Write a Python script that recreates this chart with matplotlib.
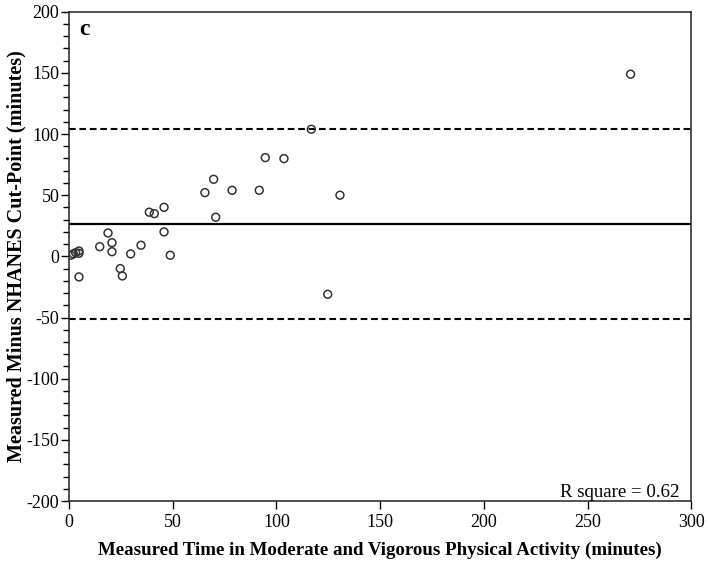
import matplotlib
matplotlib.use("Agg")
import matplotlib.pyplot as plt
from matplotlib.ticker import MultipleLocator

# measured MVPA (minutes) and difference measured - NHANES cut-point (minutes)
measured = [0.8, 2.1, 3.2, 4.8, 4.8, 4.8, 14.8, 18.8, 20.7, 20.7, 24.7, 25.7,
            29.7, 34.7, 38.7, 41.1, 45.8, 45.8, 48.8, 65.5, 69.7, 70.7, 78.6,
            91.7, 94.6, 103.6, 116.8, 124.7, 130.6, 270.7]
difference = [0.9, 2.0, 3.0, 4.4, 2.5, -16.8, 7.9, 19.1, 11.2, 3.8, -10.0, -16.0,
              2.0, 9.1, 36.1, 34.9, 40.1, 20.0, 0.9, 52.1, 63.0, 32.0, 54.0,
              54.0, 80.7, 79.9, 103.9, -31.0, 50.0, 148.9]

mean_diff = 26.5
upper_loa = 104.0
lower_loa = -51.0
r_square = 0.62

plt.rcParams['font.family'] = ['Liberation Serif', 'DejaVu Serif']
plt.rcParams['axes.unicode_minus'] = False

fig = plt.figure(figsize=(7.08, 5.70), dpi=100)
ax = fig.add_axes([0.0975, 0.121, 0.879, 0.8585])

ax.scatter(measured, difference, s=32, facecolors='none', edgecolors='#333333',
           linewidths=1.1, zorder=3)
ax.axhline(mean_diff, color='black', lw=1.6, zorder=2)
ax.axhline(upper_loa, color='black', lw=1.5, ls=(0, (3.2, 1.8)), zorder=2)
ax.axhline(lower_loa, color='black', lw=1.5, ls=(0, (3.2, 1.8)), zorder=2)

ax.set_xlim(0, 300)
ax.set_ylim(-200, 200)
ax.xaxis.set_major_locator(MultipleLocator(50))
ax.yaxis.set_major_locator(MultipleLocator(50))
ax.yaxis.set_minor_locator(MultipleLocator(10))
ax.tick_params(axis='both', which='major', direction='out', length=6, width=1,
               labelsize=13, colors='black')
ax.tick_params(axis='y', which='minor', direction='out', length=4, width=1)
ax.tick_params(axis='x', which='major', pad=3)
ax.tick_params(axis='y', which='major', pad=1)

for sp in ax.spines.values():
    sp.set_linewidth(1.1)
    sp.set_color('#222222')

ax.set_xlabel('Measured Time in Moderate and Vigorous Physical Activity (minutes)',
              fontsize=13.6, fontweight='bold', labelpad=8)
ax.set_ylabel('Measured Minus NHANES Cut-Point (minutes)',
              fontsize=14.5, fontweight='bold', labelpad=0)

ax.text(0.017, 0.9515, 'c', transform=ax.transAxes, fontsize=17,
        fontweight='bold', va='baseline', ha='left')
ax.text(0.981, 0.009, f'R square = {r_square}', transform=ax.transAxes,
        fontsize=13.6, va='baseline', ha='right')

fig.savefig('out.png', dpi=100)
